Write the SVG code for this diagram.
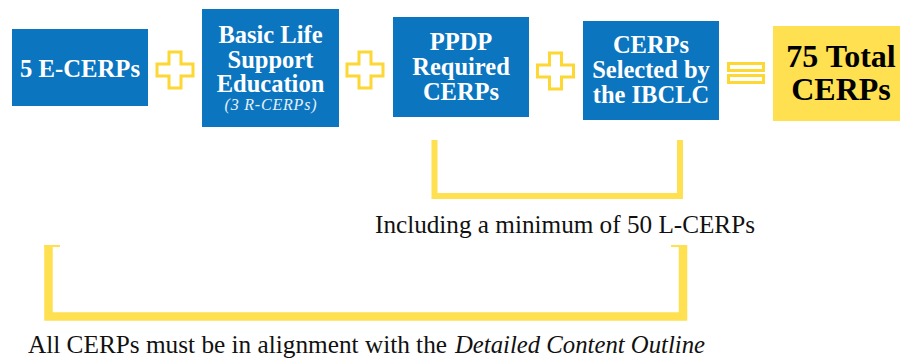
<svg xmlns="http://www.w3.org/2000/svg" xmlns:xlink="http://www.w3.org/1999/xlink" width="900" height="358" viewBox="0 0 900 358">
<style>
.box{fill:#0b75bf}
.tot{fill:#fee050}
.bt{font-family:"Liberation Serif","Times New Roman",serif;font-weight:bold;font-size:24.5px;fill:#fff;text-anchor:middle}
.it{font-family:"Liberation Serif","Times New Roman",serif;font-style:italic;font-size:16px;fill:#e6f0fa;text-anchor:middle}
.tt{font-family:"Liberation Serif","Times New Roman",serif;font-weight:bold;font-size:32px;fill:#000;text-anchor:middle}
.op{fill:#fff;stroke:#fdd835;stroke-width:3}
.br{fill:none;stroke:#fee050}
.cap{font-family:"Liberation Serif","Times New Roman",serif;font-size:25.5px;fill:#111}
</style>
<defs>
<path id="plus" d="M-6,-18 H6 V-6 H18 V6 H6 V18 H-6 V6 H-18 V-6 H-6 Z"/>
</defs>
<rect width="900" height="358" fill="#fff"/>
<g id="n1"><rect class="box" x="12" y="29" width="136" height="77"/><text class="bt" x="80" y="77" textLength="120" lengthAdjust="spacingAndGlyphs">5 E-CERPs</text></g>
<g id="n2"><rect class="box" x="202" y="9" width="137" height="118"/>
<text class="bt" x="270.5" y="43">Basic Life</text>
<text class="bt" x="270.5" y="67.5">Support</text>
<text class="bt" x="270.5" y="92">Education</text>
<text class="it" x="270.5" y="110" textLength="92" lengthAdjust="spacing">(3 R-CERPs)</text></g>
<g id="n3"><rect class="box" x="393" y="17" width="136" height="100"/>
<text class="bt" x="461" y="50">PPDP</text>
<text class="bt" x="461" y="75">Required</text>
<text class="bt" x="461" y="100">CERPs</text></g>
<g id="n4"><rect class="box" x="583" y="21" width="136" height="99"/>
<text class="bt" x="651" y="53">CERPs</text>
<text class="bt" x="651" y="77.5">Selected by</text>
<text class="bt" x="651" y="103">the IBCLC</text></g>
<g id="n5"><rect class="tot" x="773" y="26" width="127" height="95"/>
<text class="tt" x="841" y="67">75 Total</text>
<text class="tt" x="841" y="100">CERPs</text></g>
<g id="operators">
<use xlink:href="#plus" href="#plus" class="op" x="175" y="70"/>
<use xlink:href="#plus" href="#plus" class="op" x="365" y="70"/>
<use xlink:href="#plus" href="#plus" class="op" x="555.5" y="71"/>
<rect class="op" x="728.5" y="63.5" width="35" height="7"/>
<rect class="op" x="728.5" y="75.5" width="35" height="7"/>
</g>
<g id="connectors">
<path class="br" stroke-width="6" d="M434.5,140 V196 H680 V140"/>
<path class="br" stroke-width="8.5" d="M48.5,245 V316.5 H683 V245"/>
<rect x="44" y="245" width="16" height="2" fill="#fee050"/>
<rect x="671" y="245" width="16" height="2" fill="#fee050"/>
</g>
<g id="labels">
<text class="cap" x="375" y="233" textLength="380" lengthAdjust="spacingAndGlyphs">Including a minimum of 50 L-CERPs</text>
<text class="cap" x="28" y="353" textLength="419" lengthAdjust="spacingAndGlyphs">All CERPs must be in alignment with the</text>
<text class="cap" x="455" y="353" font-style="italic" textLength="250" lengthAdjust="spacingAndGlyphs">Detailed Content Outline</text>
</g>
</svg>
